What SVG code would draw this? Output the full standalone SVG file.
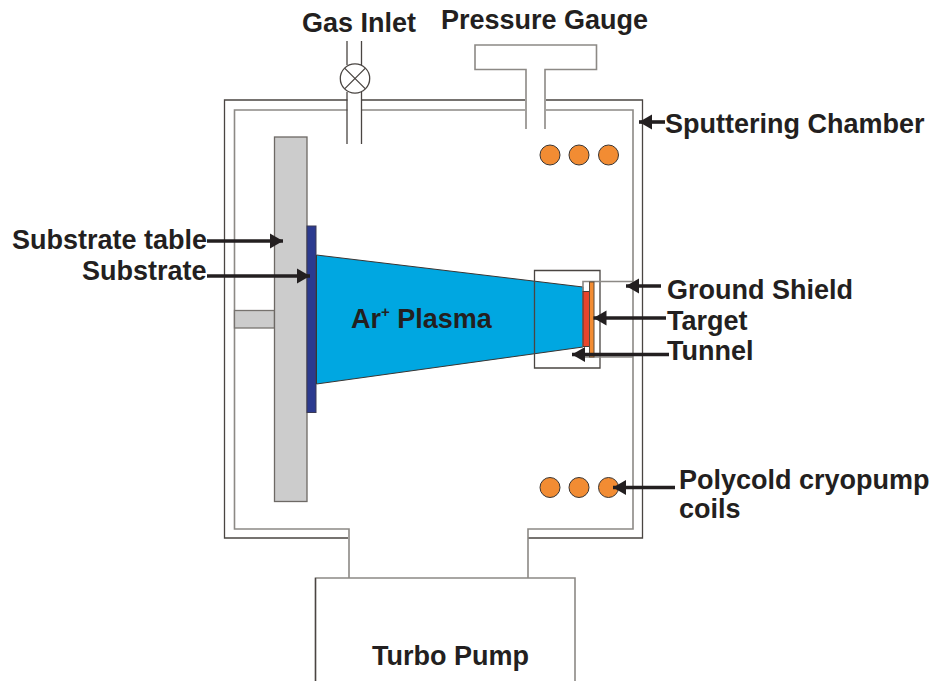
<svg xmlns="http://www.w3.org/2000/svg" width="936" height="681" viewBox="0 0 936 681">
<style>
.l{fill:none;stroke:#4a4542;stroke-width:1.3}
.g{fill:none;stroke:#8c8985;stroke-width:1.6}
.coil{fill:#f28c33;stroke:#3a3532;stroke-width:1}
.w{fill:#fff}
.t{font-family:"Liberation Sans",Arial,sans-serif;font-weight:700;font-size:27px;fill:#231f20}
.a{fill:none;stroke:#231f20;stroke-width:3.6;marker-end:url(#h)}
</style>
<defs>
<marker id="h" markerUnits="userSpaceOnUse" markerWidth="14" markerHeight="16" refX="13" refY="8" orient="auto"><path d="M0 0.500L13 8L0 15.500Z" fill="#231f20"/></marker>
</defs>
<rect class="w" width="936" height="681"/>
<g id="chamber">
<path class="l" d="M348 538H224.500V100H642.500V538H528"/>
<path class="g" d="M349 578V529H234.500V110H633V529H528V578"/>
</g>
<g id="turbo-pump">
<path class="g" d="M315.500 681V578H575V681"/>
<path class="l" d="M315.500 681V578"/>
<text class="t" x="372" y="665">Turbo Pump</text>
</g>
<g id="gas-inlet">
<rect class="w" x="347.500" y="95" width="14" height="20"/>
<path class="l" d="M347 41V65M361.500 41V65M347 92V144M361.500 92V144"/>
<circle class="l" cx="355" cy="78.500" r="14.700"/>
<path class="l" d="M344.600 68.100L365.400 88.900M365.400 68.100L344.600 88.900"/>
<text class="t" x="302" y="32">Gas Inlet</text>
</g>
<g id="pressure-gauge">
<rect class="w" x="525" y="95" width="21" height="20"/>
<path class="g" d="M526 129V69.500H475V45H596.500V69.500H545V129"/>
<text class="t" x="441" y="28.500">Pressure Gauge</text>
</g>
<g id="coils-top">
<circle class="coil" cx="550" cy="155" r="10"/>
<circle class="coil" cx="579" cy="155" r="10"/>
<circle class="coil" cx="608.500" cy="155" r="10"/>
</g>
<g id="coils-bottom">
<circle class="coil" cx="550" cy="487.500" r="10"/>
<circle class="coil" cx="579" cy="487.500" r="10"/>
<circle class="coil" cx="608.500" cy="487.500" r="10"/>
</g>
<g id="substrate-table">
<rect x="234.500" y="310.500" width="40" height="17.500" fill="#ccc" stroke="#77736f" stroke-width="1.3"/>
<rect x="274.500" y="137" width="32.500" height="364.500" fill="#ccc" stroke="#6d6965" stroke-width="1.3"/>
</g>
<g id="substrate">
<rect x="307" y="226" width="9" height="186.500" fill="#2b3a8f" stroke="#3a3a55" stroke-width="1"/>
</g>
<g id="plasma">
<path d="M316.500 255L583 287V347L316.500 384Z" fill="#00a7e1" stroke="#3a3532" stroke-width="1"/>
<text class="t" x="351" y="328">Ar<tspan font-size="15" dy="-11">+</tspan><tspan dy="11"> Plasma</tspan></text>
</g>
<g id="magnetron">
<path class="l" d="M534.500 270.500H600V368H534.500Z"/>
<path class="g" d="M583 347V281.500H633M583 357H633"/>
<rect x="583" y="291.500" width="7.500" height="55" fill="#e8452c" stroke="#4a3a35" stroke-width="1"/>
<rect x="589.500" y="282" width="4.500" height="75" fill="#f28c33" stroke="#5a4a3a" stroke-width="1"/>
</g>
<g id="connectors">
<path class="a" d="M665 122H639"/>
<path class="a" d="M661 286H626"/>
<path class="a" d="M666 318H593.500"/>
<path class="a" d="M669 354.500H572"/>
<path class="a" d="M207 241H283"/>
<path class="a" d="M207 276H310"/>
<path class="a" d="M675 487.500H613"/>
</g>
<g id="labels">
<text class="t" x="665" y="133">Sputtering Chamber</text>
<text class="t" x="12" y="249">Substrate table</text>
<text class="t" x="82" y="280">Substrate</text>
<text class="t" x="667" y="299">Ground Shield</text>
<text class="t" x="667" y="330">Target</text>
<text class="t" x="667" y="360">Tunnel</text>
<text class="t" x="679" y="489">Polycold cryopump</text>
<text class="t" x="679" y="518">coils</text>
</g>
</svg>
